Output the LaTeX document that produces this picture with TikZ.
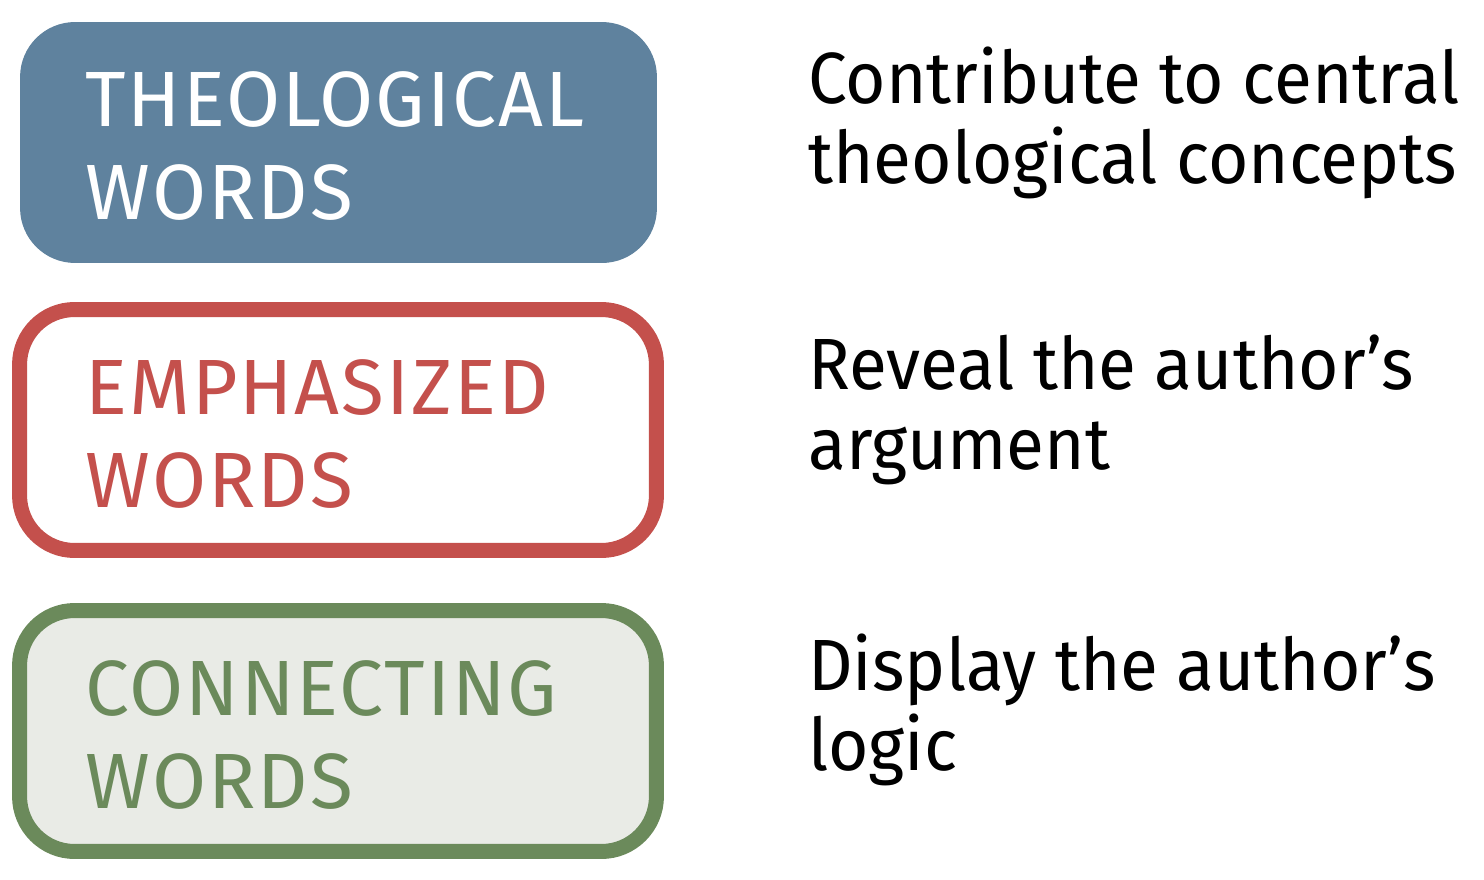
\documentclass[tikz,border=0pt]{standalone}
\usepackage{fontspec}
\setmainfont{Fira Sans}
\newfontfamily\sidefont[FakeStretch=0.955]{Fira Sans}
\newfontfamily\boxfont[LetterSpace=2.5]{Fira Sans}
\definecolor{theoblue}{HTML}{5F829E}
\definecolor{emphred}{HTML}{C4504C}
\definecolor{conngreen}{HTML}{6B8A5B}
\definecolor{conngray}{HTML}{E9EBE6}
\begin{document}
\begin{tikzpicture}[x=0.02cm,y=-0.02cm,
    wordbox/.style={rounded corners=1.1cm, minimum width=12.74cm, minimum height=4.82cm, inner sep=0pt},
    boxtext/.style={anchor=base west, inner sep=0pt, align=left, font=\boxfont\fontsize{44.6}{52.4}\selectfont},
    sidetext/.style={anchor=base west, inner sep=0pt, align=left, font=\sidefont\fontsize{41.3}{45.5}\selectfont}]
    \useasboundingbox (0,0) rectangle (1484,879);
    \node[wordbox, fill=theoblue] (TB) at (338.5,142.5) {};
    \node[wordbox, draw=emphred, line width=0.3cm, fill=white] (EB) at (338,430) {};
    \node[wordbox, draw=conngreen, line width=0.3cm, fill=conngray] (CB) at (338,731) {};

    % second line baselines
    \node[boxtext, text=white] (TT) at (85,219) {THEOLOGICAL\\WORDS};
    \node[boxtext, text=emphred] (ET) at (85,507) {EMPHASIZED\\WORDS};
    \node[boxtext, text=conngreen] (CT) at (85,808) {CONNECTING\\WORDS};

    \node[sidetext] (TS) at (808,183) {Contribute to central\\theological concepts};
    \node[sidetext] (ES) at (808,469) {Reveal the author’s\\argument};
    \node[sidetext] (CS) at (808,770) {Display the author’s\\logic};
\end{tikzpicture}
\end{document}
